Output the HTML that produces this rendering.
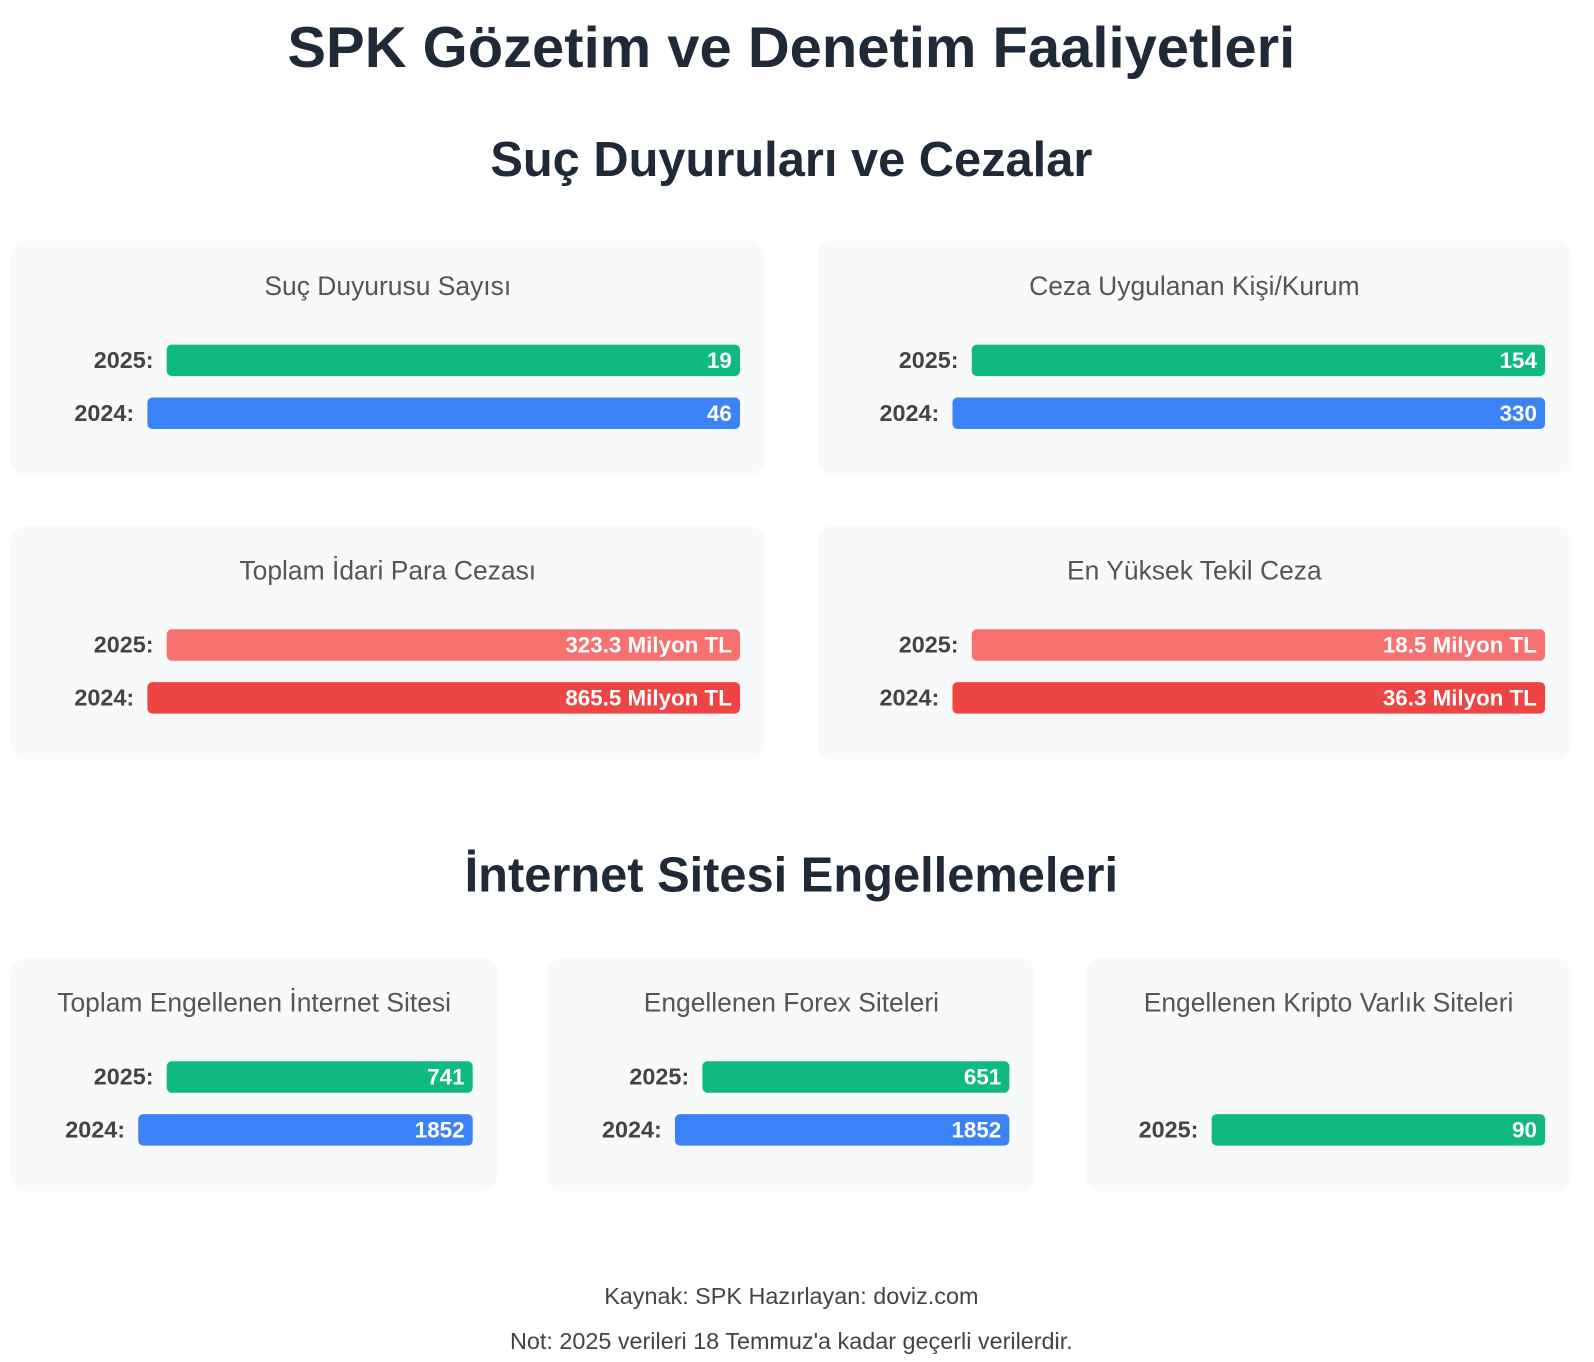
<!DOCTYPE html>
<html><head><meta charset="utf-8"><style>
body{margin:0;width:1594px;height:1362px;background:#fff;font-family:"Liberation Sans",sans-serif;overflow:hidden}
#w{position:relative;width:1568px;height:1340px;transform:scale(1.0165);transform-origin:0 0}
.t{position:absolute;left:0;width:1557px;text-align:center;font-weight:bold;color:#1f2937}
.card{position:absolute;background:#f8f9fb;border-radius:14px;box-shadow:0 0 2px rgba(0,0,0,0.06)}
.ct{position:absolute;left:0;right:0;text-align:center;font-size:26px;color:#555;top:28px;white-space:nowrap}
.lab{position:absolute;font-size:23px;font-weight:bold;color:#444;text-align:right;width:100px;line-height:31px}
.bar{position:absolute;height:31px;border-radius:5px;color:#fff;font-weight:bold;font-size:22px;line-height:31px;text-align:right;padding-right:8px;box-sizing:border-box;white-space:nowrap}
.g{background:#10b981}.b{background:#3b82f6}.r1{background:#f87171}.r2{background:#ef4444}
.f{position:absolute;left:0;width:1557px;text-align:center;font-size:23px;color:#444}
</style></head><body><div id="w">
<div class="t" style="top:14px;font-size:57px">SPK Gözetim ve Denetim Faaliyetleri</div>
<div class="t" style="top:130px;font-size:48px">Suç Duyuruları ve Cezalar</div>
<div class="t" style="top:834px;font-size:48px">İnternet Sitesi Engellemeleri</div>

<div class="card" style="left:12px;top:238px;width:739px;height:228px"><div class="ct">Suç Duyurusu Sayısı</div></div>
<div class="card" style="left:805px;top:238px;width:740px;height:228px"><div class="ct">Ceza Uygulanan Kişi/Kurum</div></div>
<div class="card" style="left:12px;top:518px;width:739px;height:228px"><div class="ct">Toplam İdari Para Cezası</div></div>
<div class="card" style="left:805px;top:518px;width:740px;height:228px"><div class="ct">En Yüksek Tekil Ceza</div></div>
<div class="card" style="left:12px;top:943px;width:476px;height:228px"><div class="ct">Toplam Engellenen İnternet Sitesi</div></div>
<div class="card" style="left:540px;top:943px;width:477px;height:228px"><div class="ct">Engellenen Forex Siteleri</div></div>
<div class="card" style="left:1069px;top:943px;width:476px;height:228px"><div class="ct">Engellenen Kripto Varlık Siteleri</div></div>

<div class="lab" style="left:51px;top:339px">2025:</div><div class="bar g" style="left:164px;top:339px;width:564px">19</div>
<div class="lab" style="left:32px;top:391px">2024:</div><div class="bar b" style="left:145px;top:391px;width:583px">46</div>
<div class="lab" style="left:843px;top:339px">2025:</div><div class="bar g" style="left:956px;top:339px;width:564px">154</div>
<div class="lab" style="left:824px;top:391px">2024:</div><div class="bar b" style="left:937px;top:391px;width:583px">330</div>

<div class="lab" style="left:51px;top:619px">2025:</div><div class="bar r1" style="left:164px;top:619px;width:564px">323.3 Milyon TL</div>
<div class="lab" style="left:32px;top:671px">2024:</div><div class="bar r2" style="left:145px;top:671px;width:583px">865.5 Milyon TL</div>
<div class="lab" style="left:843px;top:619px">2025:</div><div class="bar r1" style="left:956px;top:619px;width:564px">18.5 Milyon TL</div>
<div class="lab" style="left:824px;top:671px">2024:</div><div class="bar r2" style="left:937px;top:671px;width:583px">36.3 Milyon TL</div>

<div class="lab" style="left:51px;top:1044px">2025:</div><div class="bar g" style="left:164px;top:1044px;width:301px">741</div>
<div class="lab" style="left:23px;top:1096px">2024:</div><div class="bar b" style="left:136px;top:1096px;width:329px">1852</div>
<div class="lab" style="left:578px;top:1044px">2025:</div><div class="bar g" style="left:691px;top:1044px;width:302px">651</div>
<div class="lab" style="left:551px;top:1096px">2024:</div><div class="bar b" style="left:664px;top:1096px;width:329px">1852</div>
<div class="lab" style="left:1079px;top:1096px">2025:</div><div class="bar g" style="left:1192px;top:1096px;width:328px">90</div>

<div class="f" style="top:1262px">Kaynak: SPK Hazırlayan: doviz.com</div>
<div class="f" style="top:1306px">Not: 2025 verileri 18 Temmuz'a kadar geçerli verilerdir.</div>
</div></body></html>
